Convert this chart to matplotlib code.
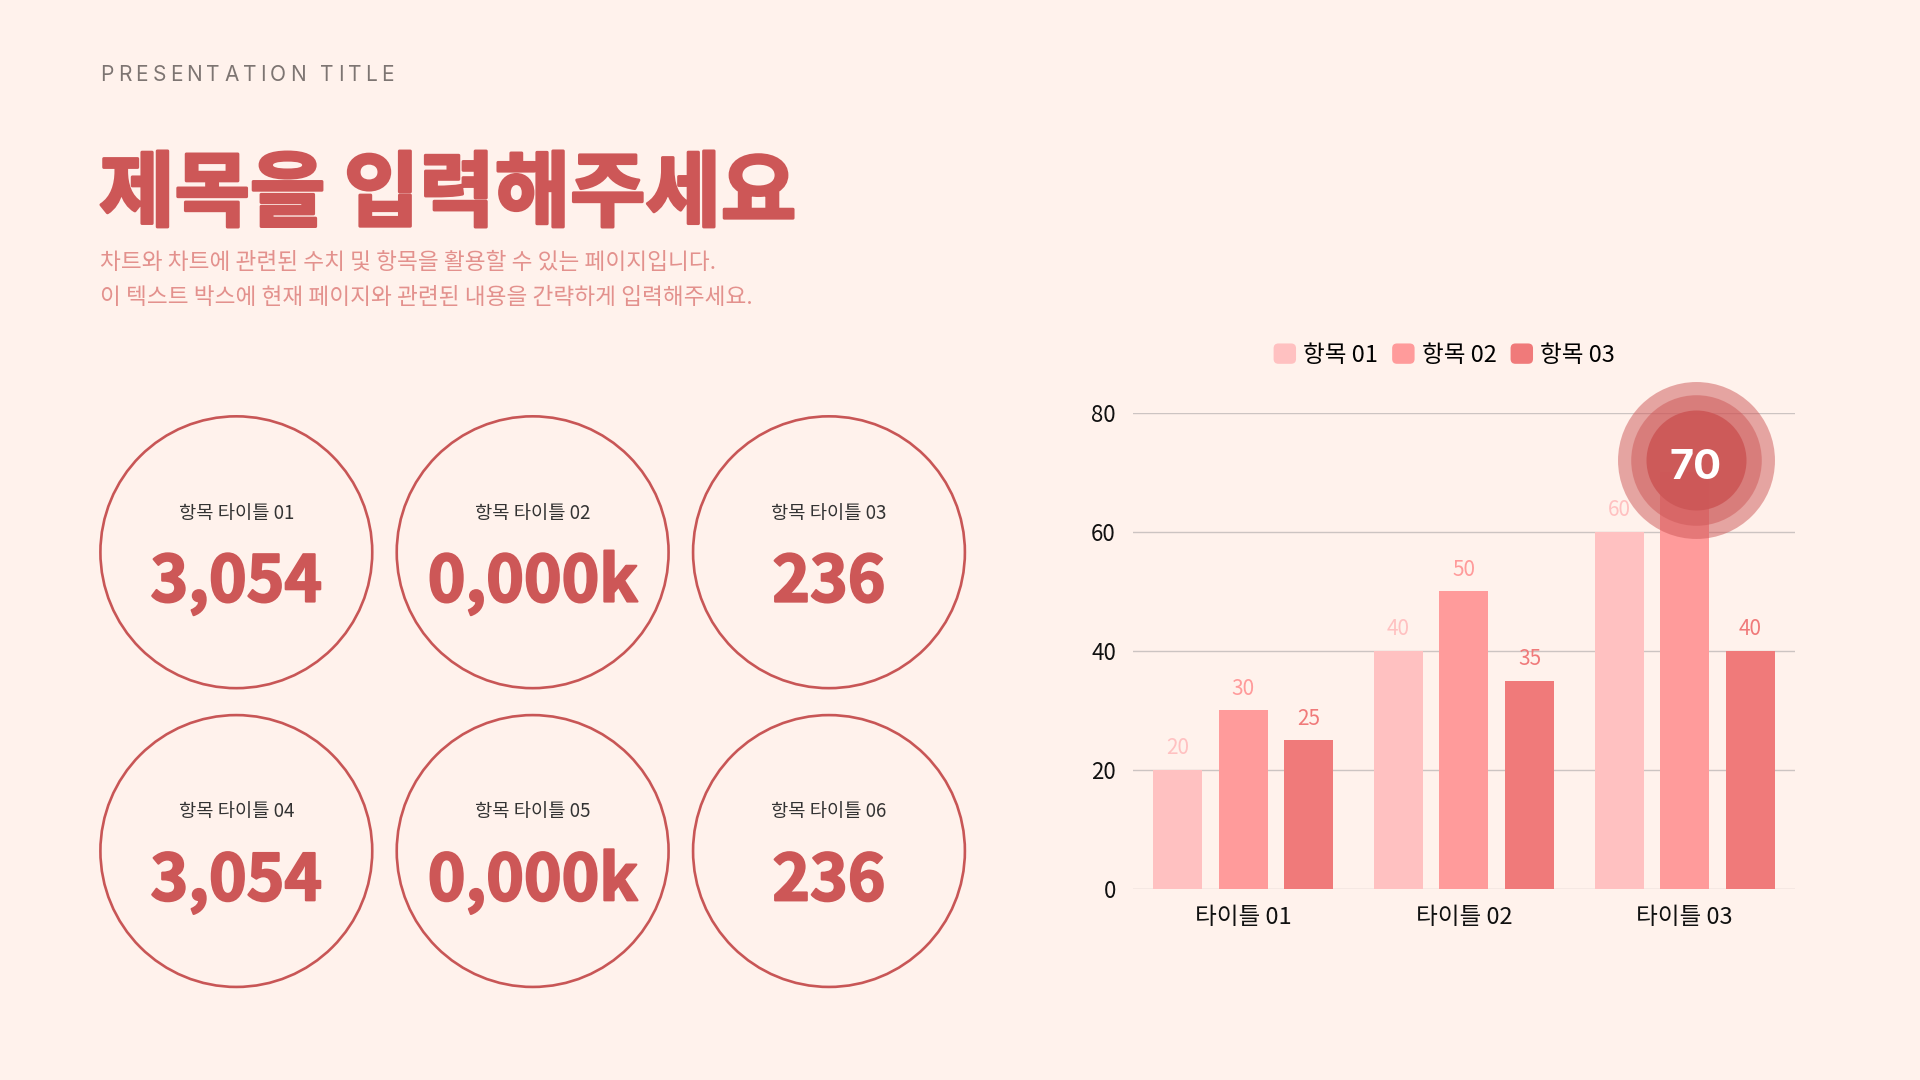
import numpy as np
import matplotlib.pyplot as plt
import matplotlib.patheffects as pe
from matplotlib.patches import Circle, Patch, FancyBboxPatch
from matplotlib.legend_handler import HandlerPatch

plt.rcParams['font.family'] = ['Noto Sans CJK KR', 'DejaVu Sans']

# ---- data ----
categories = ['타이틀 01', '타이틀 02', '타이틀 03']
series_names = ['항목 01', '항목 02', '항목 03']
series_1 = [20, 40, 60]
series_2 = [30, 50, 70]
series_3 = [25, 35, 40]
yticks = [0, 20, 40, 60, 80]
highlight = (1, 2)  # (series index, category index)

stat_titles = ['항목 타이틀 01', '항목 타이틀 02', '항목 타이틀 03',
               '항목 타이틀 04', '항목 타이틀 05', '항목 타이틀 06']
stat_values = ['3,054', '0,000k', '236', '3,054', '0,000k', '236']

header = 'PRESENTATION TITLE'
title = '제목을 입력해주세요'
subtitle = ['차트와 차트에 관련된 수치 및 항목을 활용할 수 있는 페이지입니다.',
            '이 텍스트 박스에 현재 페이지와 관련된 내용을 간략하게 입력해주세요.']

# ---- style ----
BG = '#FFF2EC'
RED = '#CD5757'
bar_colors = ['#FFC1C1', '#FF9B9B', '#F07A7A']

W, H = 1568, 882  # layout grid of the slide

fig = plt.figure(figsize=(19.2, 10.8), dpi=100, facecolor=BG)
renderer = fig.canvas.get_renderer()
px_scale = 1920 / W

bg = fig.add_axes([0, 0, 1, 1])
bg.set_xlim(0, W)
bg.set_ylim(H, 0)
bg.axis('off')


def text_w(s, **kw):
    t = bg.text(0, 0, s, **kw)
    w = t.get_window_extent(renderer).width / px_scale
    t.remove()
    return w


def tracked_text(x, y, s, track, **kw):
    # letter-spaced text, one glyph at a time
    for i, ch in enumerate(s):
        if ch == ' ':
            continue
        off = text_w(s[:i + 1], **kw) - text_w(ch, **kw)
        bg.text(x + off + i * track, y, ch, ha='left', va='center', **kw)


class RoundSquare(HandlerPatch):
    def create_artists(self, legend, orig, xdescent, ydescent, width, height, fontsize, trans):
        p = FancyBboxPatch((-xdescent, -ydescent), width, height,
                           boxstyle='round,pad=0,rounding_size=3.5',
                           fc=orig.get_facecolor(), ec='none', transform=trans)
        return [p]


heavy = [pe.withStroke(linewidth=2.2, foreground=RED)]

# header + title
tracked_text(82, 61, header, 3.4, fontsize=15, color='#7D7572', family=['Inter', 'DejaVu Sans'])
bg.text(81, 160, title, fontsize=59, fontweight='black', color=RED, va='center', ha='left',
        path_effects=heavy)
for i, line in enumerate(subtitle):
    bg.text(82, 214 + i * 29, line, fontsize=16.3, color='#E3918D', va='center', ha='left')

# stat circles
cxs = [193, 435, 677]
cys = [451, 695]
for k, (t, v) in enumerate(zip(stat_titles, stat_values)):
    cx = cxs[k % 3]
    cy = cys[k // 3]
    bg.add_patch(Circle((cx, cy), 111, fill=False, ec='#C85656', lw=1.9))
    bg.text(cx, cy - 32, t, fontsize=13.5, color='#333333', ha='center', va='center')
    bg.text(cx, cy + 25, v, fontsize=46, fontweight='black', color=RED, ha='center',
            va='center', path_effects=[pe.withStroke(linewidth=1.5, foreground=RED)])

# ---- bar chart ----
ax = fig.add_axes([925 / W, 1 - 726 / H, 541 / W, 389 / H])
ax.set_facecolor('none')
x = np.arange(len(categories))
offsets = [-0.297, 0, 0.297]
width = 0.222
for i, (vals, c, name) in enumerate(zip([series_1, series_2, series_3], bar_colors, series_names)):
    bars = ax.bar(x + offsets[i], vals, width, color=c, label=name, zorder=2)
    labels = ['' if (i, j) == highlight else str(v) for j, v in enumerate(vals)]
    ax.bar_label(bars, labels=labels, padding=7.5, color=c, fontsize=15)

hs, hc = highlight
hv = [series_1, series_2, series_3][hs][hc]
hx = x[hc] + offsets[hs] + 0.05
hy = hv + 2
ax.scatter([hx], [hy], s=113 ** 2, color=RED, alpha=0.5, lw=0, zorder=5, clip_on=False)
ax.scatter([hx], [hy], s=94 ** 2, color=RED, alpha=0.5, lw=0, zorder=6, clip_on=False)
ax.scatter([hx], [hy], s=72 ** 2, color=RED, alpha=0.92, lw=0, zorder=7, clip_on=False)
ax.text(hx, hy - 1.3, str(hv), color='white', fontsize=30, fontweight='bold',
        family=['Inter', 'DejaVu Sans'], ha='center', va='center', zorder=8)

ax.set_xlim(-0.5, 2.5)
ax.set_ylim(0, 80)
ax.set_yticks(yticks)
ax.set_xticks(x)
ax.set_xticklabels(categories)
ax.yaxis.grid(True, color='#CCC4C2', lw=1)
ax.set_axisbelow(True)
for sp in ax.spines.values():
    sp.set_visible(False)
ax.tick_params(axis='y', length=0, pad=12, labelsize=16, colors='#111111')
ax.tick_params(axis='x', length=0, pad=12, labelsize=17, colors='#111111')

handles = [Patch(facecolor=c, label=n) for c, n in zip(bar_colors, series_names)]
fig.legend(handles=handles, loc='center', bbox_to_anchor=(1179.5 / W, 1 - 290 / H), ncol=3,
           frameon=False, fontsize=17, handlelength=0.95, handleheight=0.95,
           handletextpad=0.3, columnspacing=0.6, handler_map={Patch: RoundSquare()})

fig.savefig('out.png', dpi=100, facecolor=BG)
